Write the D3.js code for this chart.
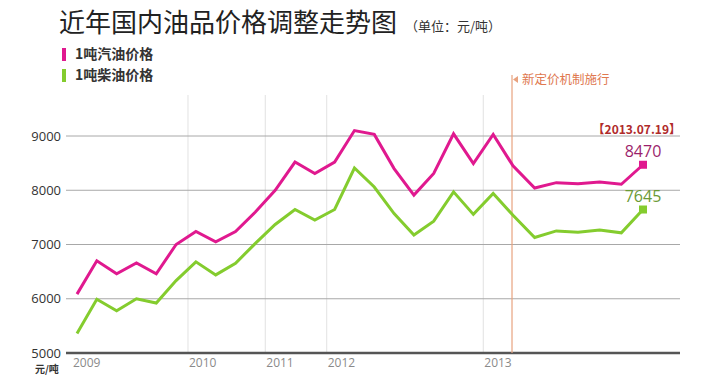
<!DOCTYPE html>
<html>
<head>
<meta charset="utf-8">
<script src="https://cdn.jsdelivr.net/npm/d3@7"></script>
<style>
  body { margin: 0; background: #fff; }
  text { font-family: "Noto Sans CJK SC", "Open Sans", sans-serif; }
  .num { font-family: "Open Sans", "Noto Sans CJK SC", sans-serif; }
</style>
</head>
<body>
<div id="chart"></div>
<script>
// price after each adjustment (yuan per ton)
var gasoline = [6085, 6700, 6460, 6660, 6460, 7000, 7240, 7050, 7240, 7600,
  8000, 8520, 8310, 8520, 9100, 9030, 8400, 7910, 8310, 9040, 8490, 9030,
  8450, 8040, 8140, 8120, 8150, 8110, 8470];
var diesel = [5360, 5990, 5780, 6000, 5920, 6335, 6680, 6440, 6655, 7020,
  7370, 7645, 7450, 7645, 8410, 8060, 7570, 7175, 7430, 7970, 7555, 7940,
  7540, 7130, 7250, 7225, 7265, 7215, 7645];
var yTicks = [5000, 6000, 7000, 8000, 9000];
var years = ["2009", "2010", "2011", "2012", "2013"];
var yearAt = [-0.2, 5.6, 9.5, 12.6, 20.5]; // position along the adjustment index
var reformAt = 21.95;
var lastDate = "【2013.07.19】";

var width = 709, height = 380;
var svg = d3.select("#chart").append("svg")
  .attr("width", width)
  .attr("height", height);

var x = d3.scaleLinear().domain([0, 22, 28]).range([77, 513, 643]);
var y = d3.scaleLinear().domain([5000, 9000]).range([353, 136]);
var left = 66, right = 680;

// title
var title = svg.append("text")
  .attr("x", 59).attr("y", 32)
  .style("font-size", "26px")
  .style("fill", "#222")
  .text("近年国内油品价格调整走势图");
svg.append("text")
  .attr("x", 405).attr("y", 31)
  .style("font-size", "13px")
  .style("fill", "#333")
  .text("（单位：元/吨）");

// legend
var legend = [
  { name: "1吨汽油价格", color: "#e0198f" },
  { name: "1吨柴油价格", color: "#84cc2e" }
];
legend.forEach(function(d, i) {
  svg.append("rect")
    .attr("x", 62).attr("y", 48 + i * 21)
    .attr("width", 4).attr("height", 13)
    .attr("fill", d.color);
  svg.append("text")
    .attr("x", 75).attr("y", 59 + i * 21)
    .style("font-size", "14px")
    .style("font-weight", "bold")
    .style("fill", "#333")
    .text(d.name);
});

// year separators
yearAt.forEach(function(p, i) {
  if (i > 0) {
    svg.append("line")
      .attr("x1", x(p)).attr("x2", x(p))
      .attr("y1", 95).attr("y2", y(5000))
      .attr("stroke", "#e2e2e2").attr("stroke-width", 1);
  }
  svg.append("text")
    .attr("class", "num")
    .attr("x", i > 0 ? x(p) + 1 : 73).attr("y", 367)
    .style("font-size", "12px")
    .style("fill", "#8a8a8a")
    .text(years[i]);
});

// horizontal grid
yTicks.forEach(function(t) {
  svg.append("line")
    .attr("x1", left).attr("x2", right)
    .attr("y1", y(t)).attr("y2", y(t))
    .attr("stroke", t === 5000 ? "#555" : "#a8a8a8")
    .attr("stroke-width", t === 5000 ? 2.5 : 1);
  svg.append("text")
    .attr("class", "num")
    .attr("x", 61).attr("y", y(t) + 4.5)
    .attr("text-anchor", "end")
    .style("font-size", "13px")
    .style("fill", "#333")
    .text(t);
});
svg.append("text")
  .attr("x", 35).attr("y", 373)
  .style("font-size", "10px")
  .style("font-weight", "bold")
  .style("fill", "#333")
  .text("元/吨");

// new pricing mechanism marker
var rx = x(reformAt);
svg.append("line")
  .attr("x1", rx).attr("x2", rx)
  .attr("y1", 75).attr("y2", y(5000))
  .attr("stroke", "#e8a27f").attr("stroke-width", 1.2);
svg.append("path")
  .attr("d", "M" + (rx + 1) + ",79.5 l5,-3.5 l0,7 z")
  .attr("fill", "#e8a27f");
svg.append("text")
  .attr("x", rx + 10).attr("y", 84)
  .style("font-size", "12.5px")
  .style("fill", "#e0784f")
  .text("新定价机制施行");

// lines
var line = d3.line()
  .x(function(d, i) { return x(i); })
  .y(function(d) { return y(d); });

[{ data: gasoline, color: "#e0198f", label: "#9c1f6c" },
 { data: diesel, color: "#84cc2e", label: "#6b9a35" }].forEach(function(s) {
  svg.append("path")
    .datum(s.data)
    .attr("d", line)
    .attr("fill", "none")
    .attr("stroke", s.color)
    .attr("stroke-width", 3)
    .attr("stroke-linejoin", "miter");
  var n = s.data.length - 1;
  svg.append("rect")
    .attr("x", x(n) - 4).attr("y", y(s.data[n]) - 4)
    .attr("width", 8).attr("height", 8)
    .attr("fill", s.color);
  svg.append("text")
    .attr("class", "num")
    .attr("x", x(n)).attr("y", y(s.data[n]) - 8)
    .attr("text-anchor", "middle")
    .style("font-size", "16px")
    .style("fill", s.label)
    .text(s.data[n]);
});

svg.append("text")
  .attr("x", 681).attr("y", 134)
  .attr("text-anchor", "end")
  .style("font-size", "12px")
  .style("font-weight", "bold")
  .style("fill", "#b02a2a")
  .text(lastDate);
</script>
</body>
</html>
